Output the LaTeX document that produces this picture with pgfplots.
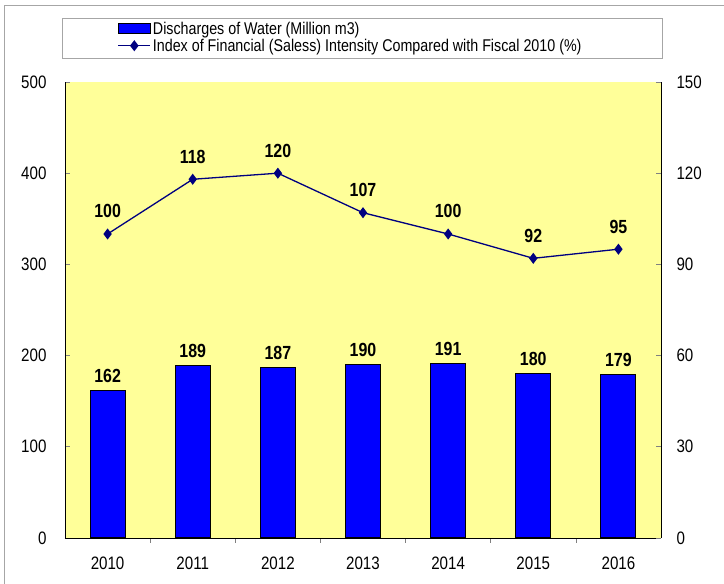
\documentclass[border=0pt]{standalone}
\usepackage{pgfplots}
\pgfplotsset{compat=1.18}
\usepackage{fontspec}
\setmainfont{Liberation Sans}[FakeStretch=0.84]
\definecolor{bg}{HTML}{FFFF99}
\definecolor{barblue}{HTML}{0000FF}
\definecolor{navy}{HTML}{000080}
\pgfplotstableread{
x bars idx
0 162 100
1 189 118
2 187 120
3 190 107
4 191 100
5 180 92
6 179 95
}\data
\begin{document}
\begin{tikzpicture}[x=1pt,y=1pt]
\useasboundingbox (0,0) rectangle (724,584);
\draw[gray!70, line width=1pt] (4,0) -- (4,578) -- (724,578);
\begin{axis}[
  at={(65pt,46pt)}, anchor=south west,
  scale only axis, width=596pt, height=456pt,
  xmin=-0.5, xmax=6.5, ymin=0, ymax=500,
  axis background/.style={fill=bg},
  axis x line*=bottom, axis y line*=left,
  axis line style={black, line width=0.8pt},
  xtick={0,...,6}, xticklabels={2010,2011,2012,2013,2014,2015,2016},
  major x tick style={draw=none},
  minor xtick={0.5,1.5,...,5.5},
  minor tick length=5pt,
  minor x tick style={gray, line width=0.6pt},
  ytick={0,100,...,500},
  major tick length=5pt,
  tick align=inside,
  y tick style={gray, line width=0.6pt},
  tick label style={font=\fontsize{18}{20}\selectfont},
  /pgf/number format/assume math mode=true,
  yticklabel style={xshift=-15pt},
  xticklabel style={yshift=-10pt},
  ybar, bar width=35pt,
  nodes near coords,
  every node near coord/.append style={font=\fontsize{19}{21}\selectfont\bfseries, yshift=4pt, black},
  clip=false,
]
\addplot[fill=barblue, draw=black, line width=1pt] table[x=x,y=bars]{\data};
\end{axis}
\begin{axis}[
  at={(65pt,46pt)}, anchor=south west,
  scale only axis, width=596pt, height=456pt,
  xmin=-0.5, xmax=6.5, ymin=0, ymax=150,
  axis x line=none, axis y line*=right,
  axis line style={black, line width=0.8pt},
  ytick={0,30,...,150},
  major tick length=5pt,
  tick align=inside,
  y tick style={gray, line width=0.6pt},
  tick label style={font=\fontsize{18}{20}\selectfont},
  /pgf/number format/assume math mode=true,
  yticklabel style={xshift=12pt},
  clip=false,
  legend style={at={(0.088,1.098)}, anchor=west, draw=none, fill=none,
    font=\fontsize{17}{20}\selectfont, row sep=-1pt, inner sep=0pt,
    /tikz/every even column/.append style={column sep=2pt}},
  legend cell align=left,
]
\addlegendimage{legend image code/.code={\draw[fill=barblue, draw=black, line width=1pt] (0pt,-5pt) rectangle (32pt,5pt);}}
\addlegendentry{Discharges of Water (Million m3)}
\addplot[navy, line width=1.3pt, mark=diamond*, mark size=4.5pt, mark options={fill=navy},
  legend image code/.code={\draw[navy, line width=1.3pt] (0pt,0pt) -- (32pt,0pt); \fill[navy] (16pt,4.5pt) -- (19.5pt,0pt) -- (16pt,-4.5pt) -- (12.5pt,0pt) -- cycle;},
  nodes near coords, every node near coord/.append style={font=\fontsize{19}{21}\selectfont\bfseries, yshift=12pt, black}]
  table[x=x,y=idx]{\data};
\addlegendentry{Index of Financial (Saless) Intensity Compared with Fiscal 2010 (\%)}
\draw[gray!70, line width=0.8pt] (rel axis cs:-0.005,1.052) rectangle (rel axis cs:1.003,1.140);
\end{axis}
\end{tikzpicture}
\end{document}
